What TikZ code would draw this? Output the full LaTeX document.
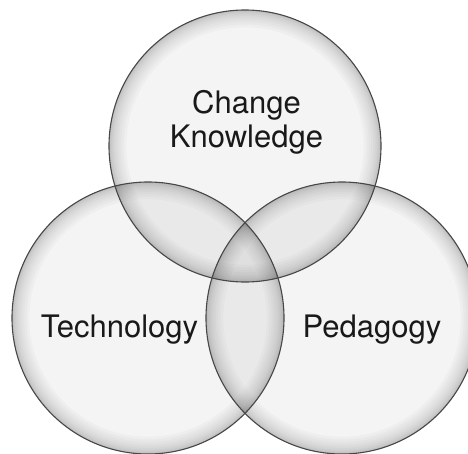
\documentclass[tikz,border=0pt]{standalone}
\usepackage{fontspec}
\setmainfont{TeX Gyre Heros}
\begin{document}
\begin{tikzpicture}[x=1pt,y=-1pt,
  rimring/.style={fill=black, fill opacity=0.024, even odd rule},
  basefill/.style={fill=black, fill opacity=0.045},
  outline/.style={draw=black!72, line width=1.1pt},
  lbl/.style={font=\fontsize{31}{34}\selectfont, inner sep=0pt, text=black!90, align=center}]
\useasboundingbox (0,0) rectangle (468,453);
\clip (0,0) rectangle (468,453);
\coordinate (cT) at (245,146);
\coordinate (cL) at (148,318);
\coordinate (cR) at (342,318);
\def\R{136}
\foreach \c in {cT,cL,cR}{
  \fill[basefill] (\c) circle (\R pt);
  \foreach \k in {1,...,12}{
    \pgfmathsetmacro\rr{\R-0.12*\k*\k}
    \fill[rimring] (\c) circle (\R pt) (\c) circle (\rr pt);
  }
}
\foreach \c in {cT,cL,cR} \draw[outline] (\c) circle (\R pt);
\node[lbl, anchor=base] (ck) at (246.5,147) {Change\\Knowledge};
\node[lbl, anchor=base] (tech) at (119.5,337) {Technology};
\node[lbl, anchor=base] (ped) at (372,337) {Pedagogy};
\end{tikzpicture}
\end{document}
